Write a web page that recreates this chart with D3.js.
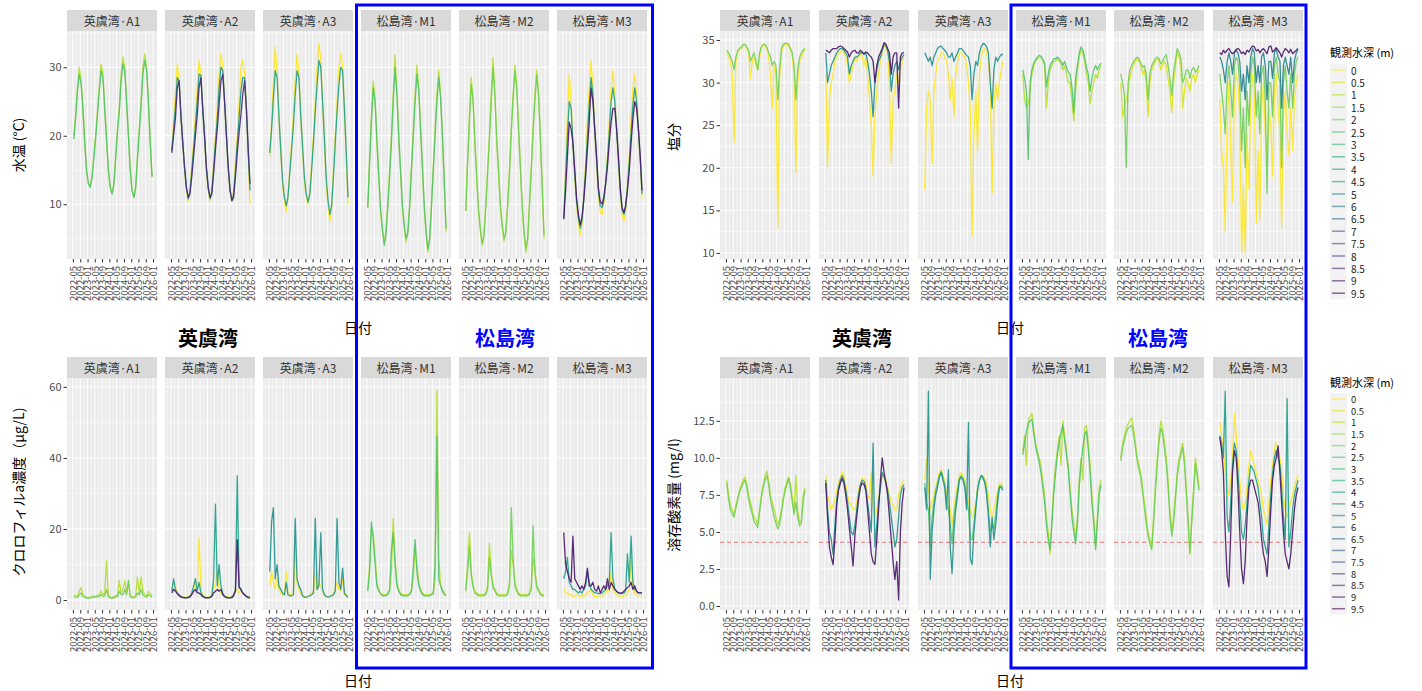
<!DOCTYPE html>
<html>
<head>
<meta charset="utf-8">
<script src="https://cdn.jsdelivr.net/npm/d3@7"></script>
<style>
body { margin: 0; background: #fff; }
text { font-family: "Noto Sans CJK JP", "Noto Sans", sans-serif; }
</style>
</head>
<body>
<svg id="chart" width="1422" height="691"></svg>
<script>
// sites (facets) and depth levels
var sites = ["英虞湾·A1", "英虞湾·A2", "英虞湾·A3", "松島湾·M1", "松島湾·M2", "松島湾·M3"];
var depthLevels = [0, 0.5, 1, 1.5, 2, 2.5, 3, 3.5, 4, 4.5, 5, 6, 6.5, 7, 7.5, 8, 8.5, 9, 9.5];
var tickLabels = ["2022-05","2022-09","2023-01","2023-05","2023-09","2024-01","2024-05","2024-09","2025-01","2025-05","2025-09","2026-01"];
// monthly values, 2022-05 .. 2025-12 (8 + 12 + 12 + 12)

// 水温
var wt_A1_1  = [20,23,27,30,28,24,19,15, 13,12.5,14,17,20,23.5,27,30.5,29,24,19.5,15, 12.5,11.5,13,17,21,24,29,31.5,30,25,20,15, 12,11,12.5,17,21,25,30,32,30,25,19,14];
var wt_A1_25 = [19.5,22.5,26.5,29,27.5,24,19,15, 13,12.5,13.8,16.5,19.5,23,26.5,29.5,28.5,24,19.5,15, 12.5,11.5,12.8,16.5,20.5,23.5,28,30.5,29.5,25,20,15, 12,11,12.3,16.5,20.5,24.5,29,31,29.5,25,19,14];
var wt_A2_0  = [18,22,26,30.5,28,23,19,15, 12,10.5,12,15.5,19,23,27,31,29,24,19.5,15, 12,10.5,12,16,20,24,29,32,30,25,20,15, 12,10.5,12,16,20,25,30,31,29,24,17,10];
var wt_A2_45 = [17.8,21,24,28.5,28,23,19,15.3, 12.3,10.8,11.8,14.8,18,21.5,25,29,28.8,24,19.8,15.3, 12.3,10.8,11.8,15.2,19,22.5,27,30,29.5,25,20,15.3, 12,10.5,11.5,15,18.8,22.7,26.5,28.5,28.5,24,17.5,12];
var wt_A2_85 = [17.5,20,22.5,27,28,23,19,15.5, 12.5,11,11.5,14,17,20,23,27,28.5,24,20,15.5, 12.5,11,11.5,14.5,18,21,24.5,28,29,25,20,15.5, 12,10.5,11,14,17.5,20.5,23,26,28,24,18,13];
var wt_A3_0  = [17,22,28,33,29,23,17.5,13, 10.5,9,11,15,19,23,28,32,29,23,18,13.5, 11,10,11.5,16,20,25,30,33.5,31,25,19,13, 9.5,7.5,9.5,15,20,25,30,32,30,24,17,10];
var wt_A3_4  = [17.5,21,25.5,29.5,28.5,23,18,13.5, 11,9.8,11,14.5,18,21.5,26,29.5,28.5,23,18.5,14, 11.5,10.3,11.5,15,19,23.5,27.5,31,30,25,19.5,13.8, 10.5,8.5,9.8,14,19,23.5,27.5,30,29.5,24,17.5,11];
var wt_M1_1  = [9.5,17,23,28,25,19,14,9, 6,4.5,6,10,15,20,26,31.8,26,20,14.5,9.5, 6.5,4.5,6,10,15.5,21,26,30.3,27,21,15,9.5, 5.5,3,5,10,15.5,21,26,29.6,26,20,13,6];
var wt_M1_25 = [9.5,16,22,27,25,19.5,14,9.5, 6.5,4,5.5,9.5,14,19,25,30,26,20,15,10, 7,5,5.8,9.5,15,20,25,29,26.5,21,15.5,10, 6,3.5,4.8,9.5,15,20,25,28.5,25.5,20,13.5,6.5];
var wt_M2_1  = [9,16.5,23,28.5,25,19,13.5,9, 6,4,5.5,10,15,20,26,31.4,26,19,14.5,9.5, 6.5,4.6,6,10,15,21,26,30.3,27,21,15,9.5, 5.5,3,5,10,15.5,21,26,29.6,26,19.5,12,5];
var wt_M2_2  = [9,16,22,27.5,25,19.2,14,9.3, 6.3,4.3,5.3,9.5,14.5,19.5,25,30,25.8,19.5,15,10, 7,5,5.8,9.6,14.5,20.5,25.3,29.5,26.8,21,15.3,10, 6,3.5,4.8,9.6,15,20.5,25.2,28.8,25.8,19.8,12.5,5.5];
var wt_M3_0  = [8,15,23,29,25,19,14,10, 7,5.5,7,11,16,22,27,31,27,21,16,11.5, 9,8.5,10,13,17,22,27,29.5,26,21,16,11.5, 8.5,7.5,9,13,17,22.5,27,29,26,21,16,11];
var wt_M3_4  = [8,14,20,25,24,19,14.5,10.5, 8,6.5,7.5,11,15,20,24.5,28.5,26,21,16.5,12, 9.8,9.5,10.5,13,16.5,20.5,25,27,25,21,16.5,12, 9.2,8.5,9.5,12.5,16,20.5,24.5,27,25,21,16.5,11.5];
var wt_M3_9  = [7.8,12,17,22,21,19,15,11, 8.5,7,8,10.5,14,18,22,27,25,21,17,12.5, 10.4,10,11,13,15.5,19,22,24,24,21,17,12.5, 9.5,8.8,9.8,12,15,19,22.5,25,24,21,17,12];

// 塩分
var sal_A1_0  = [33.5,33,32.5,31,23,32.5,33.5,33.8, 34,34.3,34.5,34,33.5,30.5,32.5,33,32,31.5,33,34, 34.5,34.3,34,33,31,27,32,31,13,30.5,33.5,34.2, 34.5,34.5,34.3,33.8,33,31,19.5,30,32.5,33,33.5,34];
var sal_A1_2  = [33.8,33.5,33,32.5,31.5,33,33.8,34, 34.2,34.5,34.5,34.2,33.8,32.5,33,33.5,32.5,31.5,33.5,34.2, 34.5,34.5,34.2,33.5,33,32,32.5,32,28,31.5,34,34.5, 34.6,34.6,34.5,34,33.5,32,28,31.5,33,33.5,33.8,34];
var sal_A2_0  = [31,20,28,30,31,32.5,33,33.5, 33.5,33.8,33.5,33,32,30,31,32,33,32.5,33,33.5, 33,32,33,31,28,25,19,26,29,31,32.5,33.5, 34.3,34,33.5,30,20.5,28,29,31,30,31.5,32.5,33];
var sal_A2_45 = [33.5,30,31,32,32.5,33,33.5,33.8, 34,34,33.8,33.5,33,31,32,32.5,33,33,33.2,33.5, 33.5,33.3,33.5,32.5,31,29,26,30,31.5,32.5,33,33.8, 34.5,34.3,33.8,32.5,29,31,32,32.5,31.5,32.5,33,33.3];
var sal_A2_9  = [33.8,33.7,33.5,33.8,34,34,34,34.2, 34.3,34.2,34,33.8,33.6,33,33.5,33.7,33.8,33.5,33.5,33.8, 33.6,33.4,33.6,33.5,33.2,33,32.5,30,32,33,33.5,34, 34.7,34.5,34,33.5,31,33,33.5,33.5,27,33,33.5,33.5];
var sal_A3_0  = [17.5,27,29,28,20.5,29,31,32.5, 33,33.5,33.5,33,32.5,31,28,30.5,26,31,32.5,33.5, 33.5,33.3,33,32,30,27,12,24,29,22,31,33, 33.8,34,33.5,32.5,30,17,27,30,28,30,31.5,32.5];
var sal_A3_45 = [33.5,33,32.5,33,32,33,33.5,34, 34.2,34.3,34,33.8,33.5,33,33,33.5,32.5,33,33.5,34, 34,33.8,33.5,33.2,33,32,28,31,32.5,32,33.5,34.2, 34.6,34.5,34.2,33.5,30,27,31.5,33,32.5,33,33.3,33.3];
var sal_M1_1  = [31,28,27,27.5,29,31,32,32.5, 32.8,33,33,32.5,32,27,30,31.5,32,32.5,32.5,32.8, 32.5,32.2,31.5,32,31,30,30,28,25.5,29,31.5,33, 33.8,33.5,32.5,31,30,27.5,29,30,31,30.5,31.5,32];
var sal_M1_25 = [31.5,30.5,29,21,30,31.5,32.3,32.7, 33,33.2,33.1,32.8,32.3,29.5,31,32,32.4,32.8,32.8,33, 32.8,32.5,32,32.5,31.8,31.2,31,29.5,26.5,30.5,32,33.5, 34.2,33.8,33,31.8,31,29,30.5,31.5,32,31.5,32,32.3];
var sal_M2_05 = [30,26,27,28,29,30.5,31.5,32, 32.5,32.8,32.5,32,31,31.5,30,26,30,31.5,32,32.5, 32.8,32.5,31.5,32,32.5,32,30.5,29,26.5,30,32,33.5, 33,32,27,29,30.5,30,29,30.5,31,30,31,31.5];
var sal_M2_2  = [31,30,28.5,20,30,31.5,32,32.5, 32.8,33,32.8,32.3,31.8,32,31,28,31.2,32,32.4,32.8, 33,32.8,32.2,32.5,33,33.3,32,30.5,28.5,31.2,32.6,34, 33.5,32.8,30,30.5,31.5,31.5,30.5,31.5,31.8,31.2,31.5,32];
var sal_M3_0  = [28,22,20,12.6,25,30,22,16, 29,31,30,26,10,18,10,24,17.5,28,31,29, 13.5,22,14,27,30,24,21,27,25,19,29,31, 27,24,13,26,29,24,21.5,27,22,28,30,31];
var sal_M3_2  = [31,29,27,24,30,32,29,26, 32,33,32.5,30,22,27,20,29,25,31,33,32, 26,29,24,31,32,28,17,30,30,26,32,33, 31,30,20,30,32,29,27,31,27,31,32.5,33];
var sal_M3_5  = [33,32.5,31.5,30,32.5,33.5,32.5,31, 33.5,33.8,33.5,32.5,29,31,28,32,30,33,34,33.5, 30,32,30,33,33.5,32,28,32.5,32.5,30.5,33.5,34, 33,32.5,27,32,33,32,31,33,30,32.5,33.5,33.8];
var sal_M3_9  = [33.5,33.3,33.8,33.5,33.8,34,33.6,33.4, 33.6,33.9,34,33.8,33.4,33.6,33.3,33.8,33.6,34,34.3,34.2, 33.7,33.9,33.5,33.8,34,33.7,33.4,34.2,34.3,33.6,33.8,34.1, 33.8,33.5,33,33.6,34,33.8,33.5,33.9,33.4,33.6,33.8,34];

// クロロフィルa
var chl_A1_1  = [1.5,1.2,1,2.5,3.5,1.5,1,0.8, 0.7,0.8,1,1.2,1,1.3,1.5,2.5,1.5,2,11,1.5, 0.8,0.7,1,1.2,1.5,5.5,2,3,5.5,2,5,1.5, 0.8,1,1.2,6.5,2,6.5,2.5,1.5,1.2,2.5,1.8,1.2];
var chl_A1_2  = [1,0.8,0.8,1.5,2,1,0.8,0.6, 0.5,0.6,0.8,0.9,0.8,1,1,1.5,1,1.2,3,1, 0.6,0.5,0.7,0.9,1,2.5,1.5,1.5,3,1.5,5.5,1, 0.6,0.7,0.9,2,1.5,3,1.5,1,0.8,1.5,1.2,0.8];
var chl_A2_0  = [3,5,4,2,1.5,1.2,1,0.8, 0.8,1,1.2,2,3,5,4,17.5,3,1.5,1,0.8, 0.8,1,1.5,3,5,8,3,2,1.5,1.2,1,0.8, 0.8,1,1.5,2.5,3,2,2.5,2,1.5,1.2,1,1];
var chl_A2_4  = [2.5,6,3,2,1.5,1,0.8,0.7, 0.7,0.8,1,2,4,6,2.5,5,2,1.2,0.8,0.7, 0.7,0.8,1.2,6,27,4,10,4,2,1,0.8,0.7, 0.7,0.8,1.5,3,35,4,3,2,1.5,1,0.8,0.8];
var chl_A2_9  = [2,3,2.5,1.8,1.2,0.9,0.7,0.6, 0.6,0.7,0.9,1.5,2.5,3,2,2,1.5,1,0.7,0.6, 0.6,0.7,1,2,2.5,3,2.5,3,1.5,1,0.7,0.6, 0.6,0.7,1.2,2.5,17,3.5,3,2,1.5,1,0.7,0.6];
var chl_A3_0  = [4,8,5,3,6,3,2,1.5, 1.5,8,2,1.5,1.5,2,15,5,3,2,1.5,1, 1,1.2,1.5,2,2.5,8,3,5,4,2.5,1.5,1, 1,1.2,1.5,2,3,5,3,2.5,6,1.5,1.5,1];
var chl_A3_45 = [8,22,26,6,10,4,3,2, 1.5,5,1.5,1.2,1.2,1.5,23,6,4,3,1.2,0.8, 0.8,1,1.2,1.5,2,23,3,4,19,3,1.5,1, 0.8,1,1.2,1.5,2.5,23,5,3,9,2,1.2,0.8];
var chl_M1_1  = [3,10,20,19,12,5,3,2, 1.5,1.5,1.5,2,3,8,23,12,5,3,2,1.5, 1.5,1.5,1.5,1.8,3,6,15,10,5,3,2,1.5, 1.5,1.5,1.5,1.8,2,6,59,12,4,3,2,1.5];
var chl_M1_25 = [2.5,8,22,17,10,4,2.5,1.8, 1.2,1.2,1.2,1.6,2.5,14,19,10,4,2.5,1.6,1.2, 1.2,1.2,1.2,1.5,2.5,9,17,8,4,2.5,1.6,1.2, 1.2,1.2,1.2,1.5,1.8,10,46,6,4,2.5,1.6,1.2];
var chl_M2_1  = [3,10,19,8,4,2.5,2,1.5, 1.5,1.5,1.5,2,4,16,8,4,3,2,1.5,1.5, 1.5,1.5,1.5,2,5,14,10,5,3,2,1.5,1.5, 1.5,1.5,1.5,2,4,12,9,4,3,2,1.5,1.5];
var chl_M2_2  = [2.5,8,15,7,3.5,2,1.6,1.2, 1.2,1.2,1.2,1.6,3,12,7,3.5,2.5,1.6,1.2,1.2, 1.2,1.2,1.2,1.6,4,26,12,4,2.5,1.6,1.2,1.2, 1.2,1.2,1.2,1.6,3,21,8,3.5,2.5,1.6,1.2,1.2];
var chl_M3_0  = [3,2,2,1.5,1.5,1,1.2,1.5, 1.2,1,1.5,1,1.5,2,2.5,3,1.5,1,1,1.2, 1,1.2,1.5,2,3,2.5,8,3,2,1.5,1.2,1, 1,1.2,1.5,2,3,12,4,2,1.5,1.2,1.2,1.5];
var chl_M3_4  = [6,8,12,5,4,3,3,2.5, 2,2.5,2,3,4,8,5,3,2.5,2,2,1.8, 1.8,2,2.5,3,4,5,19,6,3,2.5,2,1.8, 1.8,2,2.5,13,5,18,5,3,2.5,2,2,2];
var chl_M3_9  = [19,10,8,6,5,18,6,5, 4,3,4,3,5,9,4,4,5,3,2.5,4, 2,3,4,3,6,3,5,4,3,2.5,2,2, 2,2.5,3,3.5,4,5,3,4,2.5,2,2,2];

// 溶存酸素量
var do_A1_1  = [8.5,7.5,6.8,6.5,6.2,6.8,7.3,7.8, 8.2,8.5,8.7,8.3,7.5,7,6.5,6,5.8,5.5,6.5,7.5, 8.2,8.8,9.1,8.5,7.5,7,6.5,6,5.5,5.8,6.5,7.3, 8,8.4,8.7,8.2,7.3,6.5,8.8,6.5,5.6,5.8,7.5,8];
var do_A1_2  = [8.3,7.2,6.5,6.2,6,6.6,7.2,7.7, 8,8.3,8.5,8,7.2,6.7,6.2,5.7,5.5,5.3,6.3,7.3, 8,8.5,8.8,8.2,7.2,6.6,6,5.6,5.2,5.5,6.3,7.1, 7.8,8.2,8.6,8,7,6.2,7,6,5.4,5.6,7.2,7.8];
var do_A2_0  = [8.8,7.5,7,6.5,6.8,7.2,7.8,8.3, 8.7,9,8.8,8.2,7.5,7,6.8,6.5,6.5,7,7.8,8.3, 8.6,8.6,8.3,7.5,7.2,9,6.8,6,6.5,7.3,8,8.8, 8.8,8.5,8,7.5,7,6.8,6.5,6.5,7.5,8,8.3,8.5];
var do_A2_45 = [8.5,6.5,5,4.5,3.5,5.5,7.2,8, 8.5,8.8,8.5,7.8,7,6,5,4.8,5.5,6.5,7.5,8.2, 8.5,8.4,8,7,6,5,11,4,5.5,7,8,9, 8.7,8.3,7.8,7,6,5,4,4.5,6,7.5,8,8.2];
var do_A2_9  = [8.3,6,4,3.3,2.8,4.5,6.8,7.8, 8.3,8.6,8.3,7.5,6.5,5.2,4,2.7,4.8,6,7.2,8, 8.3,8.2,7.8,6.5,5,3.5,3,2.8,4.5,6.5,8.5,10, 9,8.3,7.5,6,4.5,3,1.8,3,0.4,5,7,8];
var do_A3_0  = [8.5,10,8,6.5,7,7.5,8,8.5, 9,9.2,8.8,8.5,7.5,7,6.5,5.5,6.5,7.5,8.2,8.8, 9,8.8,8.5,8,7,6.5,6,6.2,7,8,8.5,8.8, 8.8,8.6,8.2,7.5,6.5,6,6.5,7,7.8,8.3,8.2,8.3];
var do_A3_25 = [8.3,7,6.5,4,6,7,7.8,8.3, 8.8,9.1,8.7,8.2,7,6.5,5.5,4.2,6,7,7.8,8.6, 8.8,8.6,8.2,7.2,6.5,4.5,4.5,5.5,6.8,7.9,8.5,8.8, 8.7,8.4,7.8,6.5,5,5.5,5.2,6.2,7.4,8.1,8.1,8];
var do_A3_45 = [8,6.5,14.5,1.8,5,6.5,7.5,8, 8.7,9,8.5,8,6.5,9.2,4,2.2,5,6.5,7.5,8.5, 8.7,8.5,8,6.5,12.4,3.2,2.8,5,6.5,7.8,8.5,8.8, 8.6,8.3,7.5,6,4,6,4.5,5.5,7,8,8,7.8];
var do_M1_1  = [10.5,11.5,9.5,12.5,12.8,13,12,11, 10.5,10,9.5,8.5,7.5,6,5,3.5,6,8,9.5,10.5, 11.5,9.5,12.5,11.5,10.5,9.5,8,6.5,5.5,4.5,6,8.5, 10,8.5,12,12.2,11,9.5,7.5,6,4,6,8,8.5];
var do_M1_25 = [10.2,11,11.8,12.3,12.5,12.6,11.6,10.8, 10.2,9.7,9,8,7,5.5,4.5,3.8,5.5,7.5,9,10.2, 11,11.7,12.2,11.2,10.2,9.2,7.6,6,5,4.2,5.6,8, 9.6,10.7,11.6,11.8,10.6,9,7,5.6,3.8,5.6,7.6,8.2];
var do_M2_1  = [10,11,11.5,12,12.3,12.5,12.7,12, 11,10,9.5,9,8,7,6,5,4.5,4,6,8, 10,11.5,12.5,12,11,10,8.5,6.5,5,6,7.5,9, 10,10.5,11,10,8,6,3.5,6,8,10,9,8];
var do_M2_2  = [9.8,10.7,11.2,11.7,12,12.1,12.2,11.6, 10.7,9.8,9.2,8.7,7.7,6.6,5.6,4.7,4.2,3.8,5.6,7.6, 9.6,11.1,12,11.6,10.6,9.6,8,6,4.7,5.6,7.2,8.7, 9.7,10.2,10.7,9.6,7.6,5.6,3.6,5.6,7.6,9.6,8.7,7.8];
var do_M3_0  = [12.4,11.5,10.5,9,8,7.5,8.5,10, 13,11.5,10,8.5,7,6.5,7,8,9.5,10.5,10,9.5, 9,8.5,8,7.5,6.5,6,5.5,7,8.5,9.5,10.5,11, 10.5,10,9,7.5,6.5,6,6.5,7,7.5,8,8.5,8.8];
var do_M3_4  = [11.5,11,10,14.5,6,5,7,9.5, 11,10.5,9,7,5,4.5,5.5,7,8.5,9.5,9.3,9, 8.5,8,7,6,4.5,4,3.5,5.5,7.5,9,10,10.5, 10,9.5,8,6,4.5,14,4,5,6.5,7.5,8,8.5];
var do_M3_9  = [11.4,10.5,9,5,2,1.3,5,9, 10.5,10,8,5,2.5,1.5,3,6,8,8.5,8.5,8, 7.5,7,6,4.5,3.5,3,2,4,6.5,8.5,9.5,10, 10.8,9,7,5,3.5,3,2.5,3.5,5,6.5,7.5,8];

var doLimit = 4.3;

// [facet, depth, values]
var wtTable = [[0,1,wt_A1_1],[0,2.5,wt_A1_25],[1,0,wt_A2_0],[1,4.5,wt_A2_45],[1,8.5,wt_A2_85],[2,0,wt_A3_0],[2,4,wt_A3_4],
  [3,1,wt_M1_1],[3,2.5,wt_M1_25],[4,1,wt_M2_1],[4,2,wt_M2_2],[5,0,wt_M3_0],[5,4,wt_M3_4],[5,9,wt_M3_9]];
var salTable = [[0,0,sal_A1_0],[0,2,sal_A1_2],[1,0,sal_A2_0],[1,4.5,sal_A2_45],[1,9,sal_A2_9],[2,0,sal_A3_0],[2,4.5,sal_A3_45],
  [3,1,sal_M1_1],[3,2.5,sal_M1_25],[4,0.5,sal_M2_05],[4,2,sal_M2_2],[5,0,sal_M3_0],[5,2,sal_M3_2],[5,5,sal_M3_5],[5,9,sal_M3_9]];
var chlTable = [[0,1,chl_A1_1],[0,2,chl_A1_2],[1,0,chl_A2_0],[1,4,chl_A2_4],[1,9,chl_A2_9],[2,0,chl_A3_0],[2,4.5,chl_A3_45],
  [3,1,chl_M1_1],[3,2.5,chl_M1_25],[4,1,chl_M2_1],[4,2,chl_M2_2],[5,0,chl_M3_0],[5,4,chl_M3_4],[5,9,chl_M3_9]];
var doTable = [[0,1,do_A1_1],[0,2,do_A1_2],[1,0,do_A2_0],[1,4.5,do_A2_45],[1,9,do_A2_9],[2,0,do_A3_0],[2,2.5,do_A3_25],[2,4.5,do_A3_45],
  [3,1,do_M1_1],[3,2.5,do_M1_25],[4,1,do_M2_1],[4,2,do_M2_2],[5,0,do_M3_0],[5,4,do_M3_4],[5,9,do_M3_9]];

var svg = d3.select("#chart");
var W = 90;
var leftX = [67, 165, 263, 361, 459, 557];
var rightX = [720, 819, 918, 1016, 1114, 1213];

var parseMonth = d3.timeParse("%Y-%m");
var tickDates = tickLabels.map(parseMonth);
var x = d3.scaleTime()
  .domain([new Date(2022, 0, 22), new Date(2026, 2, 8)])
  .range([0, W]);
var minorDates = [];
for (var k = 0; k < tickDates.length - 1; k++) {
  minorDates.push(new Date((+tickDates[k] + +tickDates[k + 1]) / 2));
}
minorDates.push(new Date(2022, 2, 1));

function monthDate(i) { return new Date(2022, 4 + i, 15); }
function depthColor(d) {
  var i = depthLevels.indexOf(d);
  return d3.interpolateViridis(1 - i / (depthLevels.length - 1));
}

function drawPlot(cfg) {
  var g = svg.append("g");
  var y = d3.scaleLinear().domain(cfg.yDomain).range([cfg.bottom, cfg.top]);
  var line = d3.line()
    .x(function(d, i) { return x(monthDate(i)); })
    .y(function(d) { return y(d); });

  var minorY = [];
  for (var k = 0; k < cfg.yTicks.length - 1; k++) minorY.push((cfg.yTicks[k] + cfg.yTicks[k + 1]) / 2);
  minorY.push(cfg.yTicks[0] - (cfg.yTicks[1] - cfg.yTicks[0]) / 2);
  minorY.push(cfg.yTicks[cfg.yTicks.length - 1] + (cfg.yTicks[1] - cfg.yTicks[0]) / 2);
  minorY = minorY.filter(function(v) { return v > cfg.yDomain[0] && v < cfg.yDomain[1]; });

  cfg.xs.forEach(function(x0, s) {
    var fg = g.append("g").attr("transform", "translate(" + x0 + ",0)");

    // strip
    fg.append("rect")
      .attr("x", 0).attr("y", cfg.top - 21)
      .attr("width", W).attr("height", 21)
      .attr("fill", "#D9D9D9");
    fg.append("text")
      .attr("x", W / 2).attr("y", cfg.top - 10.5)
      .attr("text-anchor", "middle")
      .attr("dominant-baseline", "central")
      .attr("fill", "#333")
      .style("font-size", "12px")
      .text(sites[s]);

    // panel
    fg.append("rect")
      .attr("x", 0).attr("y", cfg.top)
      .attr("width", W).attr("height", cfg.bottom - cfg.top)
      .attr("fill", "#EBEBEB");

    fg.selectAll(".vminor").data(minorDates).enter().append("line")
      .attr("x1", function(d) { return x(d); }).attr("x2", function(d) { return x(d); })
      .attr("y1", cfg.top).attr("y2", cfg.bottom)
      .attr("stroke", "#fff").attr("stroke-width", 0.5);
    fg.selectAll(".hminor").data(minorY).enter().append("line")
      .attr("x1", 0).attr("x2", W)
      .attr("y1", function(d) { return y(d); }).attr("y2", function(d) { return y(d); })
      .attr("stroke", "#fff").attr("stroke-width", 0.5);
    fg.selectAll(".vmajor").data(tickDates).enter().append("line")
      .attr("x1", function(d) { return x(d); }).attr("x2", function(d) { return x(d); })
      .attr("y1", cfg.top).attr("y2", cfg.bottom)
      .attr("stroke", "#fff").attr("stroke-width", 1);
    fg.selectAll(".hmajor").data(cfg.yTicks).enter().append("line")
      .attr("x1", 0).attr("x2", W)
      .attr("y1", function(d) { return y(d); }).attr("y2", function(d) { return y(d); })
      .attr("stroke", "#fff").attr("stroke-width", 1);

    if (cfg.hline != null) {
      fg.append("line")
        .attr("x1", 0).attr("x2", W)
        .attr("y1", y(cfg.hline)).attr("y2", y(cfg.hline))
        .attr("stroke", "#E07B7B").attr("stroke-width", 1)
        .attr("stroke-dasharray", "4,3");
    }

    var rows = cfg.table.filter(function(r) { return r[0] === s; })
      .sort(function(a, b) { return a[1] - b[1]; });
    rows.forEach(function(r) {
      fg.append("path")
        .datum(r[2])
        .attr("d", line)
        .attr("fill", "none")
        .attr("stroke", depthColor(r[1]))
        .attr("stroke-width", 1.3)
        .attr("stroke-opacity", 0.9)
        .attr("stroke-linejoin", "round");
    });

    // x axis
    var xAxis = d3.axisBottom(x)
      .tickValues(tickDates)
      .tickFormat(d3.timeFormat("%Y-%m"))
      .tickSize(3.5)
      .tickPadding(2);
    var ax = fg.append("g")
      .attr("transform", "translate(0," + cfg.bottom + ")")
      .call(xAxis);
    ax.select(".domain").remove();
    ax.selectAll(".tick line").attr("stroke", "#333");
    ax.selectAll("text")
      .attr("transform", "rotate(-90)")
      .attr("text-anchor", "end")
      .attr("x", -7).attr("y", 0)
      .attr("dy", "0.35em")
      .attr("fill", "#4D4D4D")
      .style("font-size", "9.5px");
  });

  // y axis
  var yAxis = d3.axisLeft(y).tickValues(cfg.yTicks).tickFormat(cfg.fmt).tickSize(3.5).tickPadding(2);
  var ay = g.append("g")
    .attr("transform", "translate(" + cfg.xs[0] + ",0)")
    .call(yAxis);
  ay.select(".domain").remove();
  ay.selectAll(".tick line").attr("stroke", "#333");
  ay.selectAll("text").attr("fill", "#4D4D4D").style("font-size", "11px");

  g.append("text")
    .attr("transform", "translate(" + cfg.ytitleX + "," + cfg.ytitleY + ") rotate(-90)")
    .attr("text-anchor", "middle")
    .attr("dominant-baseline", "central")
    .style("font-size", "14px")
    .text(cfg.ytitle);

  g.append("text")
    .attr("x", cfg.xtitleX).attr("y", cfg.xtitleY)
    .attr("text-anchor", "middle")
    .attr("dominant-baseline", "central")
    .style("font-size", "14px")
    .text("日付");
}

drawPlot({ xs: leftX, top: 31, bottom: 259, yDomain: [2, 35.3], yTicks: [10, 20, 30], fmt: d3.format("d"),
  table: wtTable, ytitle: "水温 (°C)", ytitleX: 18, ytitleY: 145, xtitleX: 358, xtitleY: 327 });
drawPlot({ xs: rightX, top: 31, bottom: 259, yDomain: [9.29, 36.06], yTicks: [10, 15, 20, 25, 30, 35], fmt: d3.format("d"),
  table: salTable, ytitle: "塩分", ytitleX: 673, ytitleY: 137, xtitleX: 1010, xtitleY: 327 });
drawPlot({ xs: leftX, top: 378, bottom: 610, yDomain: [-2.8, 62.5], yTicks: [0, 20, 40, 60], fmt: d3.format("d"),
  table: chlTable, ytitle: "クロロフィルa濃度（μg/L)", ytitleX: 18, ytitleY: 492, xtitleX: 358, xtitleY: 680 });
drawPlot({ xs: rightX, top: 378, bottom: 610, yDomain: [-0.27, 15.39], yTicks: [0, 2.5, 5, 7.5, 10, 12.5], fmt: d3.format(".1f"),
  table: doTable, hline: doLimit, ytitle: "溶存酸素量 (mg/l)", ytitleX: 673, ytitleY: 495, xtitleX: 1010, xtitleY: 680 });

// legends
function drawLegend(x0, titleY, firstY, step, fs) {
  var lg = svg.append("g");
  lg.append("text")
    .attr("x", x0).attr("y", titleY)
    .attr("dominant-baseline", "central")
    .style("font-size", "11px")
    .text("観測水深 (m)");
  var items = lg.selectAll(".item").data(depthLevels).enter().append("g")
    .attr("transform", function(d, i) { return "translate(" + x0 + "," + (firstY + i * step) + ")"; });
  items.append("rect")
    .attr("x", 0).attr("y", -step / 2).attr("width", 17).attr("height", step)
    .attr("fill", "#F2F2F2");
  items.append("line")
    .attr("x1", 2).attr("x2", 15).attr("y1", 0).attr("y2", 0)
    .attr("stroke", function(d) { return depthColor(d); })
    .attr("stroke-width", 1.5)
    .attr("stroke-opacity", 0.6);
  items.append("text")
    .attr("x", 21).attr("y", 0)
    .attr("dominant-baseline", "central")
    .attr("fill", "#1A1A1A")
    .style("font-size", fs + "px")
    .text(function(d) { return d; });
}
drawLegend(1330, 52, 70, 12.4, 10);
drawLegend(1330, 382, 399, 11.65, 9.4);

// bay labels
var bays = [
  { t: "英虞湾", x: 208, y: 337, c: "#000" },
  { t: "松島湾", x: 505, y: 337, c: "#0000FF" },
  { t: "英虞湾", x: 862, y: 337, c: "#000" },
  { t: "松島湾", x: 1158, y: 337, c: "#0000FF" }
];
svg.selectAll(".bay").data(bays).enter().append("text")
  .attr("x", function(d) { return d.x; })
  .attr("y", function(d) { return d.y; })
  .attr("text-anchor", "middle")
  .attr("dominant-baseline", "central")
  .attr("fill", function(d) { return d.c; })
  .attr("font-weight", "bold")
  .style("font-size", "20px")
  .text(function(d) { return d.t; });

// blue frames round the Matsushima facets
svg.append("rect").attr("x", 356.5).attr("y", 5).attr("width", 296).attr("height", 663)
  .attr("fill", "none").attr("stroke", "#0000FF").attr("stroke-width", 3);
svg.append("rect").attr("x", 1011).attr("y", 5).attr("width", 295).attr("height", 663)
  .attr("fill", "none").attr("stroke", "#0000FF").attr("stroke-width", 3);
</script>
</body>
</html>
